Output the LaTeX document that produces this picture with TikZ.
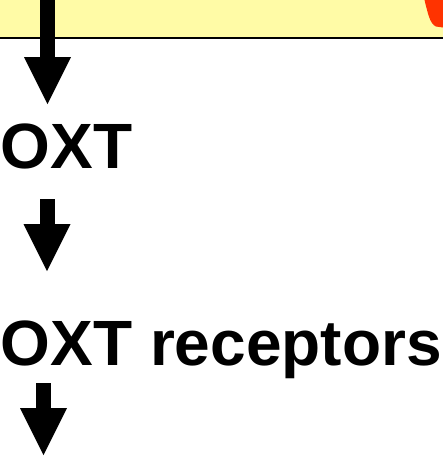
\documentclass[tikz,border=0pt]{standalone}
\usepackage{fontspec}
\setmainfont{Liberation Sans}
\usetikzlibrary{arrows.meta}
\definecolor{bandyellow}{HTML}{FFFBA6}
\definecolor{signalred}{HTML}{FF3300}

\begin{document}
\begin{tikzpicture}[x=1pt,y=-1pt]
\tikzstyle{label}=[inner sep=0pt,anchor=base west,font=\bfseries\fontsize{64}{70}\selectfont]
\tikzstyle{blockarrow}=[line width=15pt,-{Triangle[length=47pt,width=47pt,line width=0pt]}]
\useasboundingbox (0,0) rectangle (443,461);
% band on top
\fill [bandyellow] (0,0) rectangle (443,38);
\fill [signalred] (424.5,0) .. controls (428,14) and (430,24) .. (436,26.5) -- (443,27.5) -- (443,0) -- cycle;
\draw [black,line width=1.6pt] (0,38.2) -- (443,38.2);
% texts
\node [label] (oxt) at (0.5,168) {OXT};
\node [label] (rec) at (0.5,365) {OXT receptors};
% arrows
\coordinate (a1s) at (47.5,0);
\coordinate (a1e) at (47.5,104);
\coordinate (a2s) at (47,199);
\coordinate (a2e) at (47,271);
\coordinate (a3s) at (43.5,383);
\coordinate (a3e) at (43.5,455);
\draw [blockarrow] (a1s) -- (a1e);
\draw [blockarrow] (a2s) -- (a2e);
\draw [blockarrow] (a3s) -- (a3e);
\end{tikzpicture}
\end{document}
